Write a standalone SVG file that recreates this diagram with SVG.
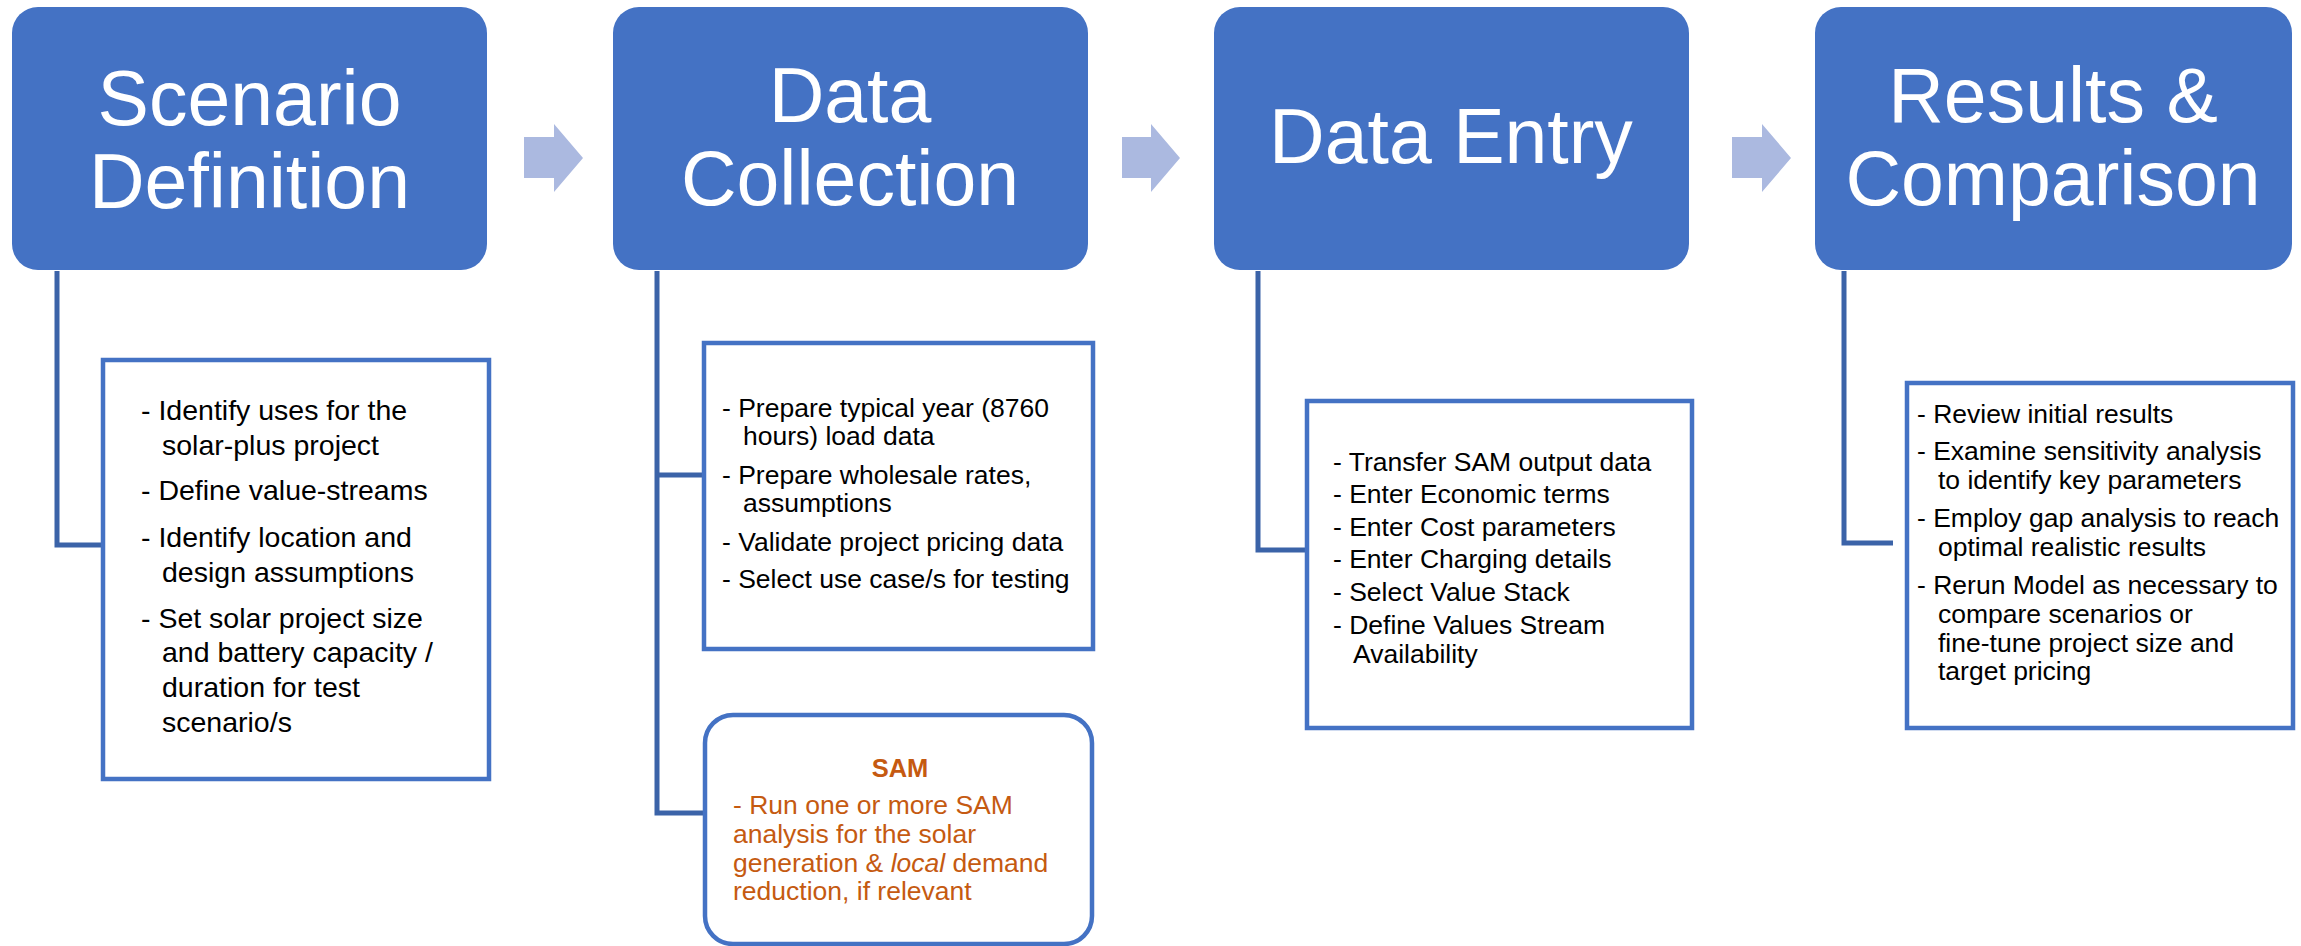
<svg xmlns="http://www.w3.org/2000/svg" width="2301" height="946" viewBox="0 0 2301 946">
  <style>
    .stage rect { fill: #4472C4; }
    .stage text { fill: #FFFFFF; font-family: "Liberation Sans", Arial, sans-serif; font-size: 77px; text-anchor: middle; }
    .box { fill: #FFFFFF; stroke: #4472C4; stroke-width: 4.5; }
    .item { fill: #000000; font-family: "Liberation Sans", Arial, sans-serif; font-size: 26.5px; }
    .big { font-size: 28.5px; }
    .sam { fill: #C55A11; font-family: "Liberation Sans", Arial, sans-serif; font-size: 26.5px; }
    .samhead { font-weight: bold; font-size: 25.5px; text-anchor: middle; }
    .step { fill: #ABB9E0; }
    .conn { fill: none; stroke: #3B63A8; stroke-width: 5; }
  </style>
  <rect width="2301" height="946" fill="#FFFFFF"/>

  <!-- connectors from each stage to its detail boxes -->
  <g id="connectors">
    <polyline class="conn" points="57,271 57,545 103,545"/>
    <polyline class="conn" points="657,271 657,813 705,813"/>
    <line class="conn" x1="657" y1="475" x2="704" y2="475"/>
    <polyline class="conn" points="1258,271 1258,550 1307,550"/>
    <polyline class="conn" points="1844,271 1844,543 1893,543"/>
  </g>

  <!-- progression arrows between stages -->
  <g id="step-arrows">
    <polygon class="step" points="524,137 554,137 554,124 583,158 554,192 554,178 524,178"/>
    <polygon class="step" points="1122,137 1151,137 1151,124 1180,158 1151,192 1151,178 1122,178"/>
    <polygon class="step" points="1732,137 1762,137 1762,124 1791,158 1762,192 1762,178 1732,178"/>
  </g>

  <!-- stage headers -->
  <g id="stage-scenario" class="stage">
    <rect x="12" y="7" width="475" height="263" rx="26"/>
    <text x="249.5" y="125">Scenario</text>
    <text x="249.5" y="208">Definition</text>
  </g>
  <g id="stage-collection" class="stage">
    <rect x="613" y="7" width="475" height="263" rx="26"/>
    <text x="850" y="122">Data</text>
    <text x="850" y="205">Collection</text>
  </g>
  <g id="stage-entry" class="stage">
    <rect x="1214" y="7" width="475" height="263" rx="26"/>
    <text x="1451" y="163">Data Entry</text>
  </g>
  <g id="stage-results" class="stage">
    <rect x="1815" y="7" width="477" height="263" rx="26"/>
    <text x="2053" y="122">Results &amp;</text>
    <text x="2053" y="205">Comparison</text>
  </g>

  <!-- detail boxes -->
  <g id="detail-scenario">
    <rect class="box" x="103" y="360" width="386" height="419"/>
    <text class="item big" x="141" y="420">- Identify uses for the</text>
    <text class="item big" x="162" y="455">solar-plus project</text>
    <text class="item big" x="141" y="500">- Define value-streams</text>
    <text class="item big" x="141" y="547">- Identify location and</text>
    <text class="item big" x="162" y="582">design assumptions</text>
    <text class="item big" x="141" y="628">- Set solar project size</text>
    <text class="item big" x="162" y="662">and battery capacity /</text>
    <text class="item big" x="162" y="697">duration for test</text>
    <text class="item big" x="162" y="732">scenario/s</text>
  </g>

  <g id="detail-collection">
    <rect class="box" x="704" y="343" width="389" height="306"/>
    <text class="item" x="722" y="417">- Prepare typical year (8760</text>
    <text class="item" x="743" y="445">hours) load data</text>
    <text class="item" x="722" y="484">- Prepare wholesale rates,</text>
    <text class="item" x="743" y="512">assumptions</text>
    <text class="item" x="722" y="551">- Validate project pricing data</text>
    <text class="item" x="722" y="588">- Select use case/s for testing</text>
  </g>

  <g id="detail-sam">
    <rect class="box" x="705" y="715" width="387" height="229" rx="28"/>
    <text class="sam samhead" x="900" y="777">SAM</text>
    <text class="sam" x="733" y="814">- Run one or more SAM</text>
    <text class="sam" x="733" y="843">analysis for the solar</text>
    <text class="sam" x="733" y="872">generation &amp; <tspan font-style="italic">local</tspan> demand</text>
    <text class="sam" x="733" y="900">reduction, if relevant</text>
  </g>

  <g id="detail-entry">
    <rect class="box" x="1307" y="401" width="385" height="327"/>
    <text class="item" x="1333" y="471">- Transfer SAM output data</text>
    <text class="item" x="1333" y="503">- Enter Economic terms</text>
    <text class="item" x="1333" y="536">- Enter Cost parameters</text>
    <text class="item" x="1333" y="568">- Enter Charging details</text>
    <text class="item" x="1333" y="601">- Select Value Stack</text>
    <text class="item" x="1333" y="634">- Define Values Stream</text>
    <text class="item" x="1353" y="663">Availability</text>
  </g>

  <g id="detail-results">
    <rect class="box" x="1907" y="383" width="386" height="345"/>
    <text class="item" x="1917" y="423">- Review initial results</text>
    <text class="item" x="1917" y="460">- Examine sensitivity analysis</text>
    <text class="item" x="1938" y="489">to identify key parameters</text>
    <text class="item" x="1917" y="527">- Employ gap analysis to reach</text>
    <text class="item" x="1938" y="556">optimal realistic results</text>
    <text class="item" x="1917" y="594">- Rerun Model as necessary to</text>
    <text class="item" x="1938" y="623">compare scenarios or</text>
    <text class="item" x="1938" y="652">fine-tune project size and</text>
    <text class="item" x="1938" y="680">target pricing</text>
  </g>
</svg>
